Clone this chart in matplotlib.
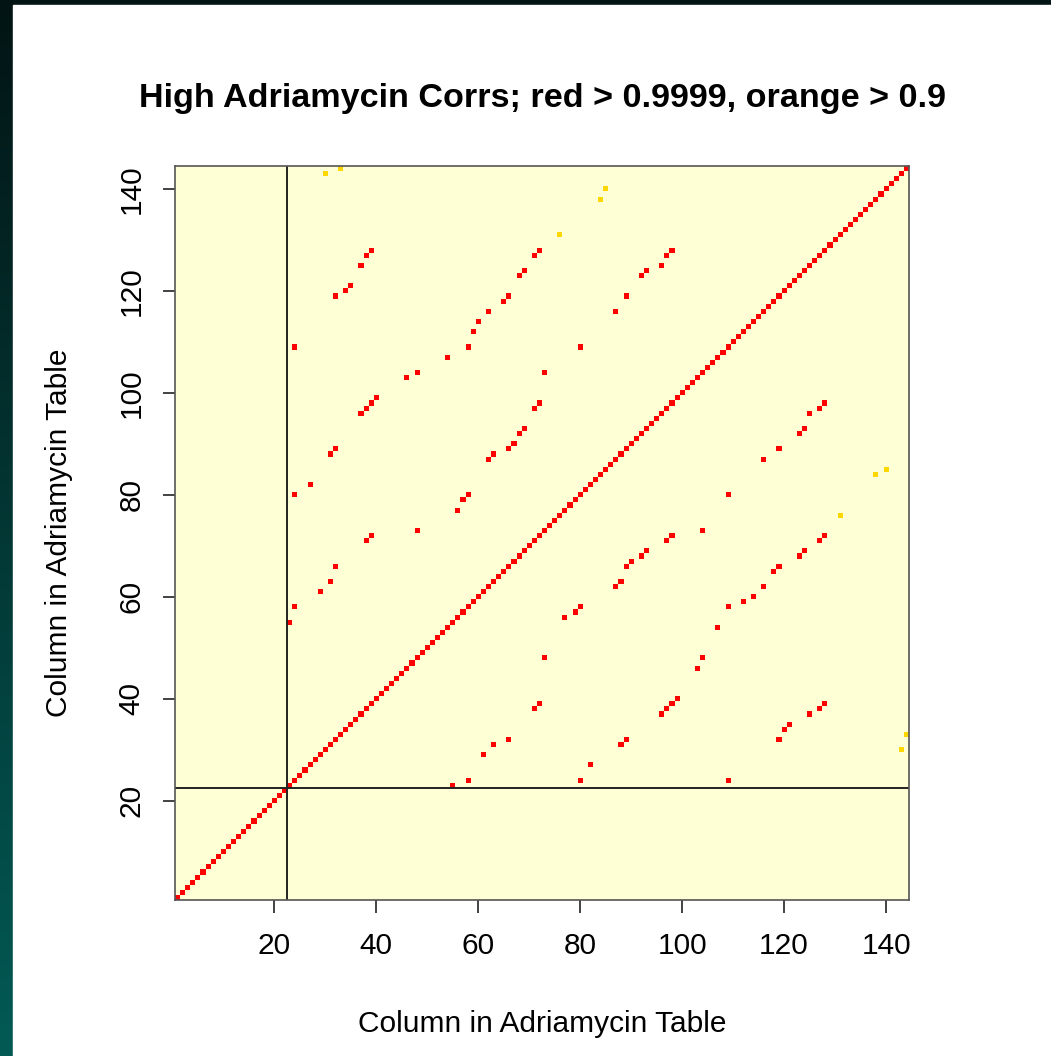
import numpy as np
import matplotlib
matplotlib.use("Agg")
import matplotlib.pyplot as plt
from matplotlib.colors import ListedColormap, LinearSegmentedColormap
from matplotlib.patches import Rectangle

# matrix size and cut-off line
n_cols = 144
split_at = 22.5

# high correlations (> 0.9999), upper triangle as (col, row); mirrored below
red_col = [23, 24, 29, 31, 32, 38, 39, 48, 56, 57, 58, 24, 27, 31, 32, 62, 63, 66,
           67, 68, 69, 37, 38, 39, 40, 71, 72, 46, 48, 73, 54, 24, 58, 80, 59, 60,
           62, 87, 65, 66, 89, 32, 34, 35, 37, 38, 39, 68, 69, 71, 72, 92, 93, 96,
           97, 98]
red_row = [55, 58, 61, 63, 66, 71, 72, 73, 77, 79, 80, 80, 82, 88, 89, 87, 88, 89,
           90, 92, 93, 96, 97, 98, 99, 97, 98, 103, 104, 104, 107, 109, 109, 109, 112, 114,
           116, 116, 118, 119, 119, 119, 120, 121, 125, 127, 128, 123, 124, 127, 128, 123, 124, 125,
           127, 128]

# correlations > 0.9
orange_col = [30, 33, 84, 85, 76]
orange_row = [143, 144, 138, 140, 131]

title = "High Adriamycin Corrs; red > 0.9999, orange > 0.9"
xlab = "Column in Adriamycin Table"
ylab = "Column in Adriamycin Table"
ticks = [20, 40, 60, 80, 100, 120, 140]

# build the level matrix: 0 background, 1 orange, 2 red
M = np.zeros((n_cols, n_cols))
for c, r in zip(orange_col, orange_row):
    M[r - 1, c - 1] = 1
    M[c - 1, r - 1] = 1
for c, r in zip(red_col, red_row):
    M[r - 1, c - 1] = 2
    M[c - 1, r - 1] = 2
for i in range(n_cols):
    M[i, i] = 2

plt.rcParams['font.family'] = ['Liberation Sans', 'DejaVu Sans']

fig = plt.figure(figsize=(10.51, 10.56), dpi=100)
fig.patch.set_facecolor("white")

# slide border: dark teal gradient on the left, thin dark strip on top
bg = fig.add_axes([0, 0, 1, 1], zorder=-10)
grad = np.linspace(0, 1, 256).reshape(-1, 1)
bg.imshow(grad, aspect="auto", extent=[0, 1, 0, 1], origin="upper",
          cmap=LinearSegmentedColormap.from_list("slide", ["#021414", "#035a55"]))
bg.add_patch(Rectangle((13 / 1051, 0), 1, 1 - 5 / 1056, color="white"))
bg.set_xlim(0, 1)
bg.set_ylim(0, 1)
bg.axis("off")

ax = fig.add_axes([0.1665, 0.1477, 0.6984, 0.6951])
cmap = ListedColormap(["#FFFFD6", "#FFD700", "#FF0000"])
edges = np.arange(0.5, n_cols + 1.5, 1)
ax.pcolormesh(edges, edges, M, cmap=cmap, vmin=-0.5, vmax=2.5)

ax.axvline(split_at, color="#222222", lw=1.4)
ax.axhline(split_at, color="#222222", lw=1.4)

ax.set_xlim(0.5, n_cols + 0.5)
ax.set_ylim(0.5, n_cols + 0.5)
ax.set_xticks(ticks)
ax.set_yticks(ticks)
ax.set_yticklabels([str(t) for t in ticks], rotation=90, va="center")
ax.tick_params(length=9, width=1.2, labelsize=21.5, pad=14, color="#222222")
ax.tick_params(axis="y", pad=12)
for s in ax.spines.values():
    s.set_color("#555555")
    s.set_linewidth(1.2)

ax.set_xlabel(xlab, fontsize=21.5, labelpad=36)
ax.set_ylabel(ylab, fontsize=21.5, labelpad=32)
fig.text(0.5157, 0.907, title, ha="center", va="center",
         fontsize=24.6, fontweight="bold")

fig.savefig("out.png", dpi=100)
